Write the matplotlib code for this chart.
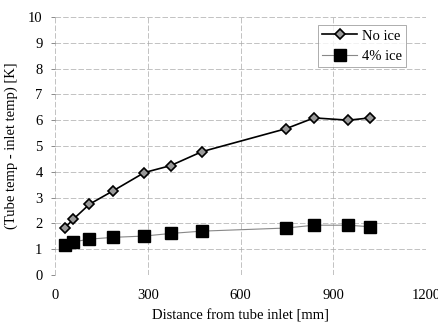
import matplotlib
matplotlib.use("Agg")
import matplotlib.pyplot as plt

plt.rcParams['font.family'] = ['Liberation Serif', 'DejaVu Serif']

# distance from tube inlet [mm]
dist = [32, 59, 111, 189, 289, 374, 475, 747, 838, 949, 1019]
# tube temp - inlet temp [K]
no_ice = [1.83, 2.16, 2.74, 3.27, 3.97, 4.24, 4.78, 5.67, 6.09, 6.0, 6.09]
ice4 = [1.16, 1.28, 1.39, 1.46, 1.51, 1.61, 1.70, 1.82, 1.93, 1.93, 1.87]

xticks = [0, 300, 600, 900, 1200]
yticks = list(range(0, 11))

fig = plt.figure(figsize=(4.38, 3.27), dpi=100)
ax = fig.add_axes([55/438, 52/327, 371/438, 258/327])

ax.plot(dist, no_ice, color='k', lw=1.2, marker='D', ms=5,
        mfc='#999999', mec='k', mew=1.2, label='No ice')
ax.plot(dist, ice4, color='#888888', lw=0.8, marker='s', ms=8,
        mfc='k', mec='k', label='4% ice')

ax.set_xlim(0, 1200)
ax.set_ylim(0, 10)
ax.set_xticks(xticks)
ax.set_yticks(yticks)
ax.grid(True, color='#aaaaaa', ls=(0, (8, 3)), lw=0.5)
for s in ax.spines.values():
    s.set_visible(False)
ax.tick_params(axis='both', length=3, width=0.6, color='#777777', labelsize=10.5, pad=6)
ax.tick_params(axis='x', length=0, pad=10)

ax.set_xlabel('Distance from tube inlet [mm]', fontsize=10.5, labelpad=5)
ax.set_ylabel('(Tube temp - inlet temp) [K]', fontsize=10.5, labelpad=7)

leg = ax.legend(loc='upper right', bbox_to_anchor=(0.946, 0.969), fontsize=10.5,
                frameon=True, fancybox=False, handlelength=2.4, borderaxespad=0,
                borderpad=0.3, labelspacing=0.5, handletextpad=0.3)
leg.get_frame().set_edgecolor('#888888')
leg.get_frame().set_linewidth(0.6)

plt.savefig('out.png', dpi=100)
